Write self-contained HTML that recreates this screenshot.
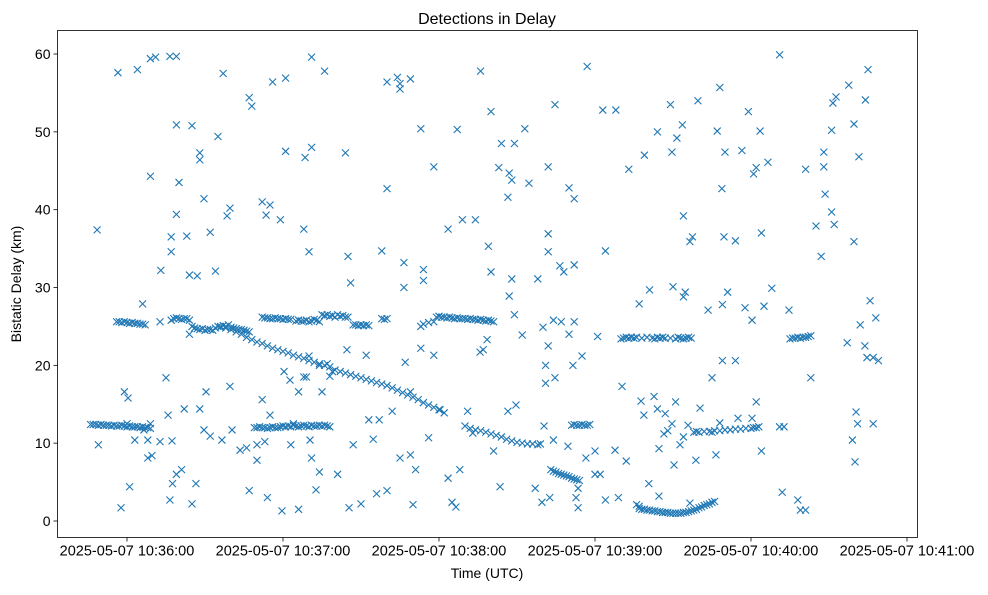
<!DOCTYPE html>
<html><head><meta charset="utf-8"><style>
body{margin:0;background:#fff;font-family:"Liberation Sans",sans-serif}
svg text{font-family:"Liberation Sans",sans-serif;fill:#000}
</style></head><body>
<svg id="chart" width="988" height="590" viewBox="0 0 988 590" xmlns="http://www.w3.org/2000/svg">
<rect x="0" y="0" width="988" height="590" fill="#fff"/>
<text x="487" y="24" font-size="16" text-anchor="middle">Detections in Delay</text>
<g id="marks"></g>
<rect x="57.5" y="30.5" width="860" height="507" fill="none" stroke="#000" stroke-width="0.8"/>
<g id="axes"></g>
<text x="487" y="578" font-size="14" text-anchor="middle">Time (UTC)</text>
<text transform="translate(21,284) rotate(-90)" font-size="14" text-anchor="middle">Bistatic Delay (km)</text>
</svg>
<script>
// time in seconds after 10:35:00 UTC, delay in km
const xTickValues=[60,120,180,240,300,360];
const xTickLabels=["2025-05-07 10:36:00","2025-05-07 10:37:00","2025-05-07 10:38:00","2025-05-07 10:39:00","2025-05-07 10:40:00","2025-05-07 10:41:00"];
const yTickValues=[0,10,20,30,40,50,60];
// dense tracks
const track1T=[46,47,48,49,50,51,52,53,54,55,56,57,58,59,60,61,62,63,64,65,66,67,68,69];
const track1D=[12.4,12.4,12.4,12.3,12.4,12.3,12.3,12.3,12.2,12.3,12.2,12.2,12.3,12.2,12.1,12.2,12.1,12.1,12.1,12.0,12.1,12.0,12.0,11.9];
const track2T=[56,57,58,59,60,61,62,63,64,65,66,67];
const track2D=[25.6,25.6,25.5,25.6,25.5,25.4,25.5,25.4,25.4,25.3,25.3,25.2];
const track3T=[77,78,79,80,81,82,83,84,85,86,87,88,89,90,91,92,93,94,95,96,97,98,99,100,101,102,103,104,105,106,107];
const track3D=[25.8,26.0,26.1,26.0,25.9,26.0,26.0,25.8,25.0,24.8,24.7,24.6,24.7,24.5,24.6,24.6,24.5,24.8,25.0,24.9,25.1,25.0,25.2,24.9,24.8,24.7,24.6,24.6,24.5,24.4,24.3];
const track4T=[112,113,114,115,116,117,118,119,120,121,122,123,125,126,127,128,129,130,131,132,133,134,135,136,137,138,139,140,141,142,143,144,145,147,148,149,150,151,152,153,158,159,160];
const track4D=[26.2,26.1,26.1,26.0,26.0,26.1,26.0,26.0,25.9,26.0,25.9,25.9,25.7,25.8,25.7,25.7,25.8,25.6,25.7,25.9,25.8,25.6,26.5,26.4,26.5,26.3,26.4,26.2,26.5,26.3,26.4,26.2,26.2,25.2,25.2,25.1,25.2,25.1,25.2,25.1,26.0,25.9,26.0];
const track5T=[96,98,100,102,104,106,108,110,112,114,116,118,120,122,124,126,128,130,132,134,136,138,140,142,144,146,148,150,152,154,156,158,160,162,164,166,168,170,172,174,176,178,180,182];
const track5D=[25.0,24.8,24.6,24.3,24.0,23.6,23.3,23.0,22.8,22.5,22.2,22.0,21.8,21.6,21.3,21.1,20.9,20.6,20.4,20.2,20.0,19.8,19.4,19.2,19.0,18.8,18.6,18.4,18.2,18.0,17.8,17.6,17.4,17.1,16.8,16.5,16.2,15.9,15.6,15.2,14.9,14.6,14.3,13.9];
const track6T=[109,110,111,112,113,114,115,116,117,118,119,120,121,122,123,124,125,126,127,128,129,130,131,132,133,134,135,136,137,138];
const track6D=[12.0,12.0,12.1,12.0,12.0,11.9,12.0,12.1,12.0,12.0,12.1,12.2,12.1,12.2,12.1,12.3,12.2,12.1,12.2,12.3,12.2,12.1,12.3,12.2,12.2,12.3,12.2,12.3,12.2,12.1];
const track7T=[173,174,176,178,179,180,181,182,183,184,185,186,187,188,189,190,191,192,193,194,195,196,197,198,199,200,201];
const track7D=[25.0,25.3,25.5,25.6,26.2,26.3,26.2,26.2,26.1,26.2,26.1,26.0,26.1,26.0,26.0,26.0,25.9,26.0,25.9,25.9,25.8,25.9,25.8,25.7,25.8,25.7,25.6];
const track8T=[190,192,194,196,198,200,202,204,206,208,210,212,214,216,218,219];
const track8D=[12.2,11.9,11.7,11.6,11.4,11.2,11.0,10.8,10.5,10.3,10.1,10.0,9.9,9.9,9.8,9.9];
const track9T=[223,224,225,226,227,228,229,230,231,232,233,234];
const track9D=[6.6,6.4,6.3,6.1,6.0,5.9,5.8,5.7,5.5,5.4,5.3,5.2];
const track10T=[231,232,233,234,235,236,237,238];
const track10D=[12.3,12.4,12.3,12.3,12.4,12.3,12.3,12.4];
const track11T=[250,251,252,253,254,255,256,258,260,262,263,264,265,266,267,269,271,272,273,274,275,276,277];
const track11D=[23.4,23.5,23.6,23.5,23.6,23.5,23.6,23.5,23.6,23.5,23.4,23.6,23.5,23.6,23.5,23.5,23.4,23.6,23.5,23.4,23.5,23.6,23.5];
const track12T=[257,258,259,260,261,262,263,264,265,266,267,268,269,270,271,272,273,274,275,276,277,278,279,280,281,282,283,284,285,286];
const track12D=[1.6,1.5,1.5,1.4,1.4,1.3,1.3,1.2,1.2,1.1,1.1,1.1,1.0,1.0,1.0,1.0,1.0,1.1,1.1,1.2,1.3,1.4,1.5,1.7,1.8,2.0,2.1,2.2,2.4,2.5];
const track13T=[278,279,280,282,284,286,288,290,292,294,296,298,300,302,303];
const track13D=[11.4,11.5,11.4,11.5,11.5,11.6,11.6,11.7,11.7,11.8,11.8,11.9,11.9,12.0,12.1];
const track14T=[315,316,317,318,319,320,321,322,323];
const track14D=[23.4,23.5,23.5,23.6,23.5,23.6,23.6,23.7,23.8];
// scattered detections
const scatterT=[48.5,49,56.5,57.7,61,64,66,69,69,71,73,75,76.5,79,77,77,79,79,80,83,84,85,87,88,88,89.6,92,94,95,97,98.5,99.6,99.6,107,108,112,113.5,115,116,119,121,121,128.5,131,130,128,131,136,144,145,146,158,160,160,164,165,165,169,166.5,166.5,173,174,174,178,183.5,187,189,194,196,199,200,200,203,204,206.5,207,208,209,208,207,213,214.6,218,222,222,222,224.6,226.5,228,230,232,232,235,237,241,243,244,248,253,257,259,261,264,269,269.6,271.5,273.6,270,274,274.7,276.5,277.5,274,279.6,283.5,285,287,288,288.8,290,289.6,289,291,294,296.5,297.7,299,300.4,301,302,303.5,304,305,306.5,308,311,312,314.6,321,323,325,327,328,328,328.5,331,331,332,331.5,332.7,337.6,339.6,341.5,344,345,345.8,348,347,339.6,337,342,343.8,344.6,347,349,340.4,341,339,340,318,319,321,
59,60.4,60,63,66.5,68,68,69.6,69,72.7,75.8,76.5,77.5,79,81,77.3,82,84,85,86.5,88,90.4,89.6,92,96.5,100.4,103.5,106,107,110,110,112,113,114,115,119.6,123,124,126,126,129,130,130.4,131,132.7,134,135,138,141,144.6,145.4,147,150,152,153,154.7,156,157,160,162,165,167,169,169,170,171,173,176,178,180.4,183.5,185,186.5,188,191,193,195.8,197,198.5,201,203.5,206.5,209,209.6,212,217,219.6,220,220.4,221,221,222,224,224,222.6,229.6,232.7,233.5,233.5,236.5,240,240,242,244,247.7,249,250.4,252,256,257,257.7,258.8,260.7,262.7,264,264.6,264.6,266.5,267,268,269.6,270.4,271,272.7,274,275.8,276.5,278.8,280.4,285,286.5,288,295,300.4,302,301,304,311,312.7,289,294,231.5,224.6,227,230,232,120.4,122.7,128,134,137,139,72.7];
const scatterD=[37.4,9.8,57.6,1.7,4.4,58,27.9,44.3,59.4,59.6,32.2,18.4,59.7,59.7,34.6,36.5,50.9,39.4,43.5,36.6,31.6,50.8,31.5,47.3,46.4,41.4,37.1,32.1,49.4,57.5,39.2,40.2,17.3,54.4,53.3,41,39.3,40.6,56.4,38.7,56.9,47.5,46.7,48,34.6,37.5,59.6,57.8,47.3,34,30.6,34.7,42.7,56.4,57,55.5,56.2,56.8,33.2,30,50.4,32.3,30.9,45.5,37.5,50.3,38.7,38.7,57.8,35.3,32,52.6,45.4,48.5,41.6,44.7,43.8,48.5,31.1,28.9,50.4,43.4,31.1,45.5,36.9,34.6,53.5,32.8,32,42.8,41.4,32.9,21.2,58.4,23.7,52.8,34.7,52.8,45.2,27.9,47,29.7,50,53.5,47.4,49.2,50.9,30.1,28.8,29.4,35.9,36.5,39.2,54,27.1,18.4,50.1,55.7,42.7,47.4,36.5,27.8,29.4,36,47.6,27.4,52.6,25.8,44.6,45.4,50.1,37,27.6,46.1,29.9,59.9,3.7,27.1,45.2,18.4,37.9,34,47.4,45.5,42,39.7,50.2,38.1,53.7,54.5,56,51,46.8,54.1,58,28.3,26.1,12.5,35.9,22.9,25.2,22.5,21,21,20.6,14,12.5,10.4,7.6,2.7,1.4,1.4,
16.6,15.8,12.5,10.4,11.7,10.4,8.1,8.4,12.5,10.2,13.6,2.7,4.8,6,6.6,10.3,14.4,24,2.2,4.8,14.4,16.6,11.7,10.9,10.4,11.7,9.1,9.4,3.9,7.8,9.8,15.6,10.2,3,13.6,1.3,9.8,12.5,16.6,1.5,18.5,21.2,10.4,8.1,4,6.3,16.6,18.6,6,22,1.7,9.8,2.2,21.3,13,10.5,3.5,13,3.9,14.1,8.1,20.4,8.5,16.6,2.1,6.6,22.2,10.7,21.3,14.3,5.5,2.4,1.8,6.6,14.1,11.3,21.7,22,23.3,9,4.4,14.1,26.5,14.9,23.9,4.2,2.4,24.9,12.2,20,17.7,22.5,25.8,10.4,3,9.6,3,1.7,4.2,8.1,9,6,6,2.7,9.1,3,17.3,7.7,2.1,1.9,15.4,13.6,4.8,16,14.4,3.2,9.3,11.2,13.8,11.6,12.5,7.2,15.3,9.8,10.8,12.3,2.3,7.8,14.5,11.4,8.5,12.6,13.2,13.2,15.3,12,9,12.1,12.1,20.6,20.6,20,18.4,25.6,24,25.6,19.2,18.1,18.5,20,20.2,19.2,25.6];

const X0=57.5,X1=917.5,Y0=30.5,Y1=537.5;
function xs(t){return 127+(t-60)*2.6;}
function ys(d){return 521-d*7.783;}
const NS="http://www.w3.org/2000/svg";
const marks=document.getElementById('marks');
const axes=document.getElementById('axes');
function addSeries(T,D,name){
  for(let i=0;i<T.length;i++){
    const x=xs(T[i]),y=ys(D[i]);
    const p=document.createElementNS(NS,'path');
    p.setAttribute('d',`M${x-3.5},${y-3.5}L${x+3.5},${y+3.5}M${x-3.5},${y+3.5}L${x+3.5},${y-3.5}`);
    p.setAttribute('stroke','#1f77b4');
    p.setAttribute('stroke-width','1.1');
    
    
    marks.appendChild(p);
  }
}
addSeries(track1T,track1D,'detection-marker');
addSeries(track2T,track2D,'detection-marker');
addSeries(track3T,track3D,'detection-marker');
addSeries(track4T,track4D,'detection-marker');
addSeries(track5T,track5D,'detection-marker');
addSeries(track6T,track6D,'detection-marker');
addSeries(track7T,track7D,'detection-marker');
addSeries(track8T,track8D,'detection-marker');
addSeries(track9T,track9D,'detection-marker');
addSeries(track10T,track10D,'detection-marker');
addSeries(track11T,track11D,'detection-marker');
addSeries(track12T,track12D,'detection-marker');
addSeries(track13T,track13D,'detection-marker');
addSeries(track14T,track14D,'detection-marker');
addSeries(scatterT,scatterD,'detection-marker');
xTickValues.forEach((v,i)=>{
  const x=xs(v);
  const l=document.createElementNS(NS,'line');
  l.setAttribute('x1',x);l.setAttribute('x2',x);l.setAttribute('y1',Y1);l.setAttribute('y2',Y1+4);
  l.setAttribute('stroke','#000');l.setAttribute('stroke-width','0.8');
  
  
  axes.appendChild(l);
  const t=document.createElementNS(NS,'text');
  t.setAttribute('x',x);t.setAttribute('y',Y1+18);t.setAttribute('font-size','14.5');t.setAttribute('text-anchor','middle');
  t.textContent=xTickLabels[i];
  
  
  axes.appendChild(t);
});
yTickValues.forEach(v=>{
  const y=ys(v);
  const l=document.createElementNS(NS,'line');
  l.setAttribute('x1',X0-4);l.setAttribute('x2',X0);l.setAttribute('y1',y);l.setAttribute('y2',y);
  l.setAttribute('stroke','#000');l.setAttribute('stroke-width','0.8');
  
  
  axes.appendChild(l);
  const t=document.createElementNS(NS,'text');
  t.setAttribute('x',X0-7);t.setAttribute('y',y+5);t.setAttribute('font-size','14');t.setAttribute('text-anchor','end');
  t.textContent=String(v);
  
  
  axes.appendChild(t);
});
</script>
</body></html>
